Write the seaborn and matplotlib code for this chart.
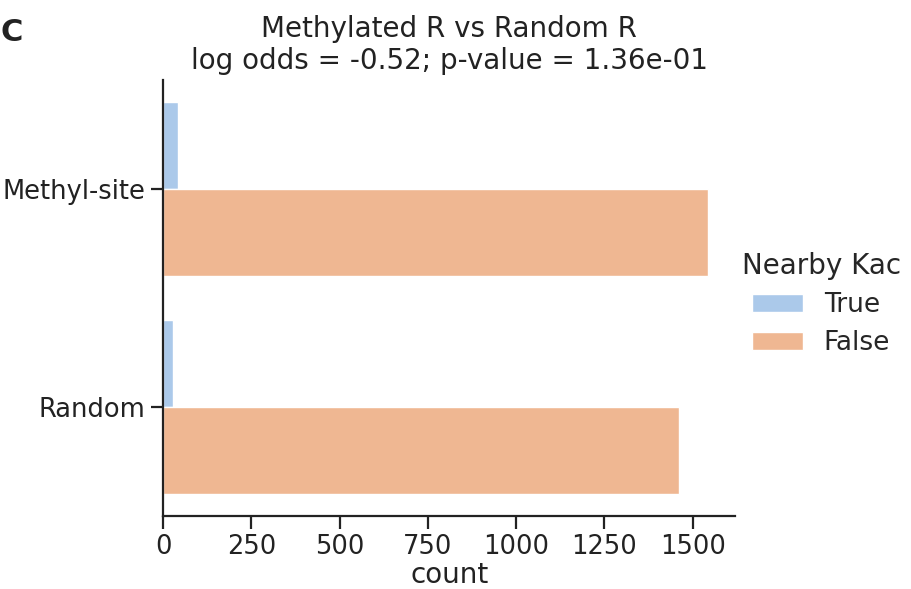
import matplotlib
matplotlib.use("Agg")
import matplotlib.pyplot as plt
import seaborn as sns
import pandas as pd

categories = ["Methyl-site", "Random"]
hue_levels = ["True", "False"]
counts_true = [43, 28]
counts_false = [1543, 1460]

rows = []
for c, t, f in zip(categories, counts_true, counts_false):
    rows.append({"group": c, "Nearby Kac": "True", "count": t})
    rows.append({"group": c, "Nearby Kac": "False", "count": f})
df = pd.DataFrame(rows)

sns.set_theme(style="ticks")
plt.rcParams['font.family'] = ['DejaVu Sans']

fig = plt.figure(figsize=(9.12, 5.89), dpi=100)
ax = fig.add_axes([0.179, 0.124, 0.627, 0.740])
sns.barplot(data=df, x="count", y="group", hue="Nearby Kac", hue_order=hue_levels,
            order=categories, palette="pastel", ax=ax)
sns.despine(ax=ax)
for s in ["left", "bottom"]:
    ax.spines[s].set_linewidth(1.6)
    ax.spines[s].set_color("#222222")
ax.tick_params(axis="both", labelsize=18.5, width=1.6, length=9, pad=4, colors="#222222")
ax.set_xticks([0, 250, 500, 750, 1000, 1250, 1500])
ax.set_xlabel("count", fontsize=20, color="#222222", labelpad=1)
ax.set_ylabel("")
ax.set_title("Methylated R vs Random R\nlog odds = -0.52; p-value = 1.36e-01",
             fontsize=20, color="#222222", pad=8, linespacing=1.2)
leg = ax.legend(title="Nearby Kac", loc="center left", bbox_to_anchor=(0.97, 0.486),
                frameon=False, fontsize=19, title_fontsize=20, handlelength=1.9,
                labelspacing=0.45)
fig.text(0.0, 0.945, "C", fontsize=22, fontweight="bold", color="#222222", va="center")
fig.savefig("out.png", dpi=100)
